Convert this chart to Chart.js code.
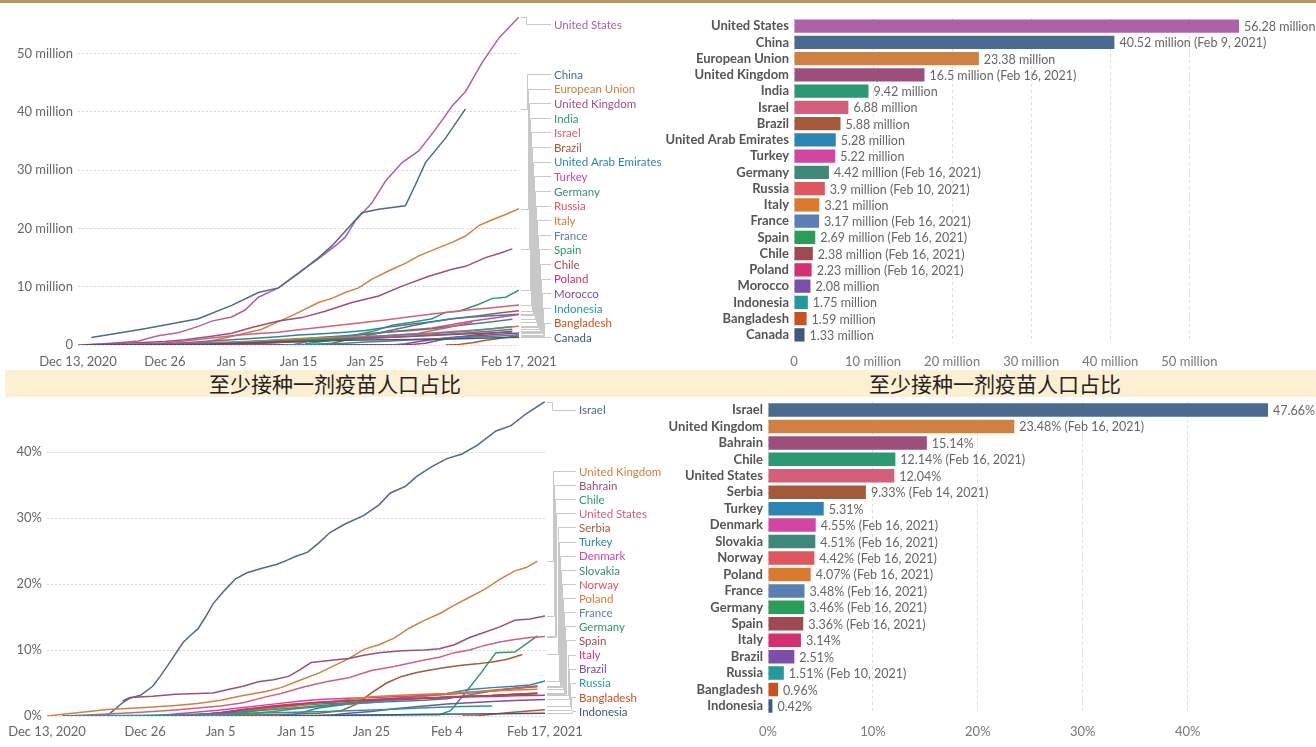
<!DOCTYPE html>
<html><head><meta charset="utf-8">
<script src="https://cdn.jsdelivr.net/npm/chart.js@4.4.1/dist/chart.umd.min.js"></script>
<style>
body{margin:0;width:1316px;height:747px;position:relative;background:#fff;overflow:hidden;font-family:Lato,sans-serif}
canvas{position:absolute}
#goldbar{position:absolute;left:0;top:0;width:1316px;height:3px;background:#b5955b}
#banner{position:absolute;left:5px;top:370px;width:1311px;height:27px;background:#fcefd2}
.btxt{position:absolute;top:0;width:400px;margin-left:-200px;text-align:center;font:21px "Noto Sans CJK SC";color:#222;line-height:27px}
</style></head>
<body>
<div id="goldbar"></div>
<div id="banner"><div class="btxt" style="left:330px">至少接种一剂疫苗人口占比</div><div class="btxt" style="left:990px">至少接种一剂疫苗人口占比</div></div>
<canvas id="c1" width="668" height="370" style="left:0;top:0"></canvas>
<canvas id="c2" width="656" height="370" style="left:660px;top:0"></canvas>
<canvas id="c3" width="668" height="367" style="left:0;top:380px"></canvas>
<canvas id="c4" width="656" height="367" style="left:660px;top:380px"></canvas>
<script>
// ---------- shared axis data ----------
const tickDays = [0, 13, 23, 33, 43, 53, 66];           // days since Dec 13, 2020
const tickDates = ['Dec 13, 2020', 'Dec 26', 'Jan 5', 'Jan 15', 'Jan 25', 'Feb 4', 'Feb 17, 2021'];
const dosesTicks = [0, 10, 20, 30, 40, 50];              // millions
const shareTicks = [0, 10, 20, 30, 40];                  // percent

// ---------- top: vaccine doses (millions), [day, value] ----------
const topNames = ['United States','China','European Union','United Kingdom','India','Israel','Brazil','United Arab Emirates','Turkey','Germany','Russia','Italy','France','Spain','Chile','Poland','Morocco','Indonesia','Bangladesh','Canada'];
const topColors = ['#b060a8','#4a6a8f','#d0803f','#9b4f7a','#2a9a70','#d45f78','#a35a3b','#2a84b4','#d444a2','#3e8a7a','#e0565d','#d97a2f','#5a7eb5','#2a9c5a','#9e4a50','#d52f72','#7b4fa7','#22999a','#c9521c','#3c5a7a'];
const dUS = [[1,0],[5,0.3],[9,0.7],[12,1.6],[15,2.1],[18,3.2],[20,4.1],[23,4.8],[25,6.0],[27,8.2],[30,9.8],[33,12.4],[35.5,14.4],[38.5,17.0],[40,18.5],[41.5,21.3],[44,24.4],[46,28.1],[48.5,31.3],[51,33.3],[53.5,37.0],[56,41.0],[58,43.5],[60.5,48.5],[63,52.7],[66,56.28]];
const dChina = [[2,1.3],[10,2.8],[18,4.5],[23,6.8],[27,9.0],[30,9.8],[33,12.3],[36,15.0],[38,17.0],[40,19.5],[42.5,22.7],[45,23.3],[49,23.9],[50.5,27.5],[52,31.3],[55,35.5],[58,40.52]];
const dEU = [[13,0],[18,0.3],[22,1.2],[25,2.0],[27.5,2.7],[30,4.0],[32.5,5.3],[36,7.3],[38,8.0],[40,9.0],[42,9.8],[44,11.3],[47,13.0],[49,14.0],[51,15.3],[54,16.7],[56,17.6],[58,18.7],[60,20.5],[62,21.5],[64,22.4],[66,23.38]];
const dUK = [[0,0],[7,0.3],[13,0.6],[16,0.9],[20,1.5],[23,2.0],[26,3.0],[30,4.1],[33.5,4.7],[37,5.8],[41,7.3],[45,8.4],[48.5,10.1],[52.5,11.8],[56,13.0],[58,13.5],[61,15.0],[63,15.7],[65,16.5]];
const dIndia = [[34,0.2],[38,0.8],[41,1.6],[44,2.3],[47,3.4],[50,3.9],[53,4.5],[55,5.6],[57,5.8],[60,7.0],[62,8.0],[64,8.2],[66,9.42]];
const dIsrael = [[6,0],[10,0.2],[13,0.4],[16,0.7],[20,1.2],[23,1.6],[26,1.9],[30,2.2],[33,2.6],[36,3.0],[40,3.5],[43,3.9],[46,4.3],[50,4.9],[53,5.3],[56,5.7],[59,6.1],[62,6.4],[66,6.88]];
const dBrazil = [[35,0],[38,0.3],[40,0.8],[43,1.5],[46,2.3],[50,3.3],[53,4.0],[56,4.5],[60,5.0],[63,5.5],[66,5.88]];
const dUAE = [[10,0.05],[16,0.4],[20,0.7],[23,0.9],[26,1.1],[30,1.4],[33,1.7],[36,1.9],[40,2.2],[43,2.5],[46,3.0],[50,3.6],[53,4.0],[56,4.5],[59,4.8],[62,5.0],[66,5.28]];
const dTurkey = [[32,0],[34,0.5],[36,1.0],[40,1.5],[43,1.8],[46,2.2],[50,2.6],[53,2.9],[56,3.5],[59,4.1],[62,4.6],[66,5.22]];
const dGermany = [[14,0],[17,0.1],[20,0.2],[23,0.35],[26,0.55],[30,0.8],[33,1.0],[36,1.3],[40,1.6],[43,1.9],[46,2.2],[50,2.5],[53,2.8],[56,3.2],[59,3.6],[62,4.0],[65,4.42]];
const dRussia = [[2,0],[13,0.2],[23,0.5],[30,0.8],[37,1.0],[45,1.5],[51,2.0],[55,2.9],[59,3.9]];
const dItaly = [[14,0],[17,0.05],[20,0.1],[23,0.3],[26,0.6],[30,0.9],[33,1.1],[36,1.25],[40,1.35],[43,1.45],[46,1.6],[50,1.85],[53,2.05],[56,2.3],[59,2.55],[62,2.8],[66,3.21]];
const dFrance = [[14,0],[20,0.01],[23,0.05],[26,0.2],[30,0.45],[33,0.7],[36,0.95],[40,1.2],[43,1.35],[46,1.6],[50,1.8],[53,1.95],[56,2.2],[59,2.45],[62,2.8],[65,3.17]];
const dSpain = [[14,0],[17,0.05],[20,0.1],[23,0.25],[26,0.45],[30,0.65],[33,0.8],[36,1.0],[40,1.1],[43,1.2],[46,1.3],[50,1.5],[53,1.7],[56,1.9],[59,2.15],[62,2.4],[65,2.69]];
const dChile = [[11,0],[20,0.02],[30,0.04],[40,0.06],[50,0.1],[52,0.3],[54,0.8],[56,1.2],[58,1.5],[60,1.8],[62,2.0],[65,2.38]];
const dPoland = [[14,0],[17,0.02],[20,0.08],[23,0.15],[26,0.3],[30,0.45],[33,0.55],[36,0.75],[40,0.95],[43,1.1],[46,1.3],[50,1.5],[53,1.65],[56,1.8],[59,1.95],[62,2.1],[65,2.23]];
const dMorocco = [[47,0],[49,0.2],[51,0.6],[53,0.9],[55,1.2],[57,1.4],[60,1.6],[63,1.85],[66,2.08]];
const dIndonesia = [[31,0],[34,0.1],[37,0.2],[40,0.3],[43,0.5],[46,0.65],[50,0.9],[53,1.05],[56,1.2],[60,1.4],[63,1.55],[66,1.75]];
const dBangladesh = [[55,0],[57,0.1],[59,0.4],[61,0.8],[63,1.1],[66,1.59]];
const dCanada = [[1,0],[6,0.03],[13,0.08],[20,0.15],[23,0.25],[26,0.35],[30,0.5],[33,0.6],[36,0.7],[40,0.8],[43,0.85],[46,0.9],[50,0.95],[53,1.0],[56,1.05],[60,1.15],[63,1.25],[66,1.33]];
const topSeries = [dUS,dChina,dEU,dUK,dIndia,dIsrael,dBrazil,dUAE,dTurkey,dGermany,dRussia,dItaly,dFrance,dSpain,dChile,dPoland,dMorocco,dIndonesia,dBangladesh,dCanada];

// top-right bars
const doseBarNames = topNames;
const doseBarValues = [56.28,40.52,23.38,16.5,9.42,6.88,5.88,5.28,5.22,4.42,3.9,3.21,3.17,2.69,2.38,2.23,2.08,1.75,1.59,1.33];
const doseBarDates = ['','Feb 9, 2021','','Feb 16, 2021','','','','','','Feb 16, 2021','Feb 10, 2021','','Feb 16, 2021','Feb 16, 2021','Feb 16, 2021','Feb 16, 2021','','','',''];

// ---------- bottom: share with at least one dose (%), [day, value] ----------
const botNames = ['Israel','United Kingdom','Bahrain','Chile','United States','Serbia','Turkey','Denmark','Slovakia','Norway','Poland','France','Germany','Spain','Italy','Brazil','Russia','Bangladesh','Indonesia'];
const botColors = ['#4a6a8f','#d0803f','#9b4f7a','#2a9a70','#d45f78','#a35a3b','#2a84b4','#d444a2','#3e8a7a','#e0565d','#d97a2f','#5a7eb5','#2a9c5a','#9e4a50','#d52f72','#7b4fa7','#22999a','#c9521c','#3c5a7a'];
const sIsrael = [[6,0],[8,0.1],[9,1.0],[10,2.0],[11,2.7],[12.5,3.2],[14,4.5],[15,6.0],[16.5,8.5],[18,11.1],[19,12.2],[20,13.2],[21,15.0],[22,17.0],[23.5,19.0],[25,20.8],[26.5,21.7],[28.5,22.4],[30.5,23.0],[32,23.7],[33,24.2],[34.5,24.8],[36,26.2],[37.5,27.8],[39.5,29.1],[42,30.4],[44,32.0],[45.5,33.8],[47.5,34.8],[49,36.3],[51,37.8],[53,39.0],[55,39.7],[57,41.0],[59.5,43.2],[61.5,44.0],[63.5,45.8],[66,47.66]];
const sUK = [[0,0],[4,0.5],[8,1.0],[13,1.3],[17,1.6],[20,1.9],[23,2.4],[26,3.1],[29,3.7],[31,4.3],[33,5.2],[36,6.5],[38,7.6],[40,8.7],[42,10.1],[44,10.8],[46,11.8],[48,13.3],[50,14.5],[52,15.5],[54,16.8],[56,18.0],[58,19.2],[60,20.7],[62,22.0],[63.5,22.5],[65,23.48]];
const sBahrain = [[10,2.3],[11,2.8],[14,3.0],[17,3.3],[20,3.4],[22,3.5],[24,4.0],[26,4.5],[28,5.2],[30,5.5],[32,6.0],[33.5,7.0],[35,8.1],[38,8.5],[40,8.7],[42,9.2],[44,9.6],[47,9.9],[50,10.0],[52,10.2],[54,10.8],[56,11.9],[58,12.7],[60,13.5],[62,14.5],[64,14.7],[66,15.14]];
const sChile = [[11,0],[30,0.05],[52,0.2],[53.5,0.8],[55.5,3.6],[57.5,6.5],[59.5,9.6],[62,9.7],[65,12.14]];
const sUS = [[2,0],[6,0.2],[10,0.4],[13,0.6],[17,0.9],[20,1.2],[23,1.5],[26,2.0],[29,2.9],[31,3.4],[34,4.4],[37,5.2],[40,5.8],[43,6.9],[46,7.5],[48,8.0],[50,8.5],[52,8.9],[54,9.6],[56,10.0],[58,10.7],[60,11.2],[62,11.6],[64,11.9],[66,12.04]];
const sSerbia = [[11,0],[20,0.1],[30,0.2],[36,0.4],[39,0.8],[41,1.8],[43,3.5],[45,5.0],[47,6.0],[49,6.6],[51,7.0],[53,7.4],[55,7.7],[57,7.9],[59,8.2],[61,8.6],[63,9.33]];
const sTurkey = [[32,0],[34,0.6],[36,1.2],[40,1.8],[43,2.2],[46,2.6],[50,3.1],[53,3.4],[56,4.0],[59,4.3],[62,4.5],[64,4.7],[66,5.31]];
const sDenmark = [[14,0],[17,0.3],[20,0.6],[23,0.9],[26,1.3],[30,1.8],[33,2.2],[36,2.5],[40,2.7],[43,2.8],[46,2.9],[50,3.1],[53,3.3],[56,3.5],[59,3.8],[62,4.2],[65,4.55]];
const sSlovakia = [[14,0],[20,0.2],[26,0.5],[30,1.2],[33,1.6],[36,1.8],[40,2.0],[43,2.1],[46,2.2],[50,2.4],[53,2.6],[56,3.2],[59,3.8],[62,4.2],[65,4.51]];
const sNorway = [[14,0],[20,0.2],[23,0.5],[26,1.0],[30,1.5],[33,1.8],[36,2.0],[40,2.3],[43,2.5],[46,2.7],[50,3.0],[53,3.3],[56,3.6],[59,3.9],[62,4.2],[65,4.42]];
const sPoland = [[14,0],[20,0.15],[23,0.4],[26,0.8],[30,1.2],[33,1.5],[36,2.0],[40,2.5],[43,2.9],[46,3.1],[50,3.3],[53,3.4],[56,3.6],[59,3.8],[62,3.95],[65,4.07]];
const sFrance = [[14,0],[20,0.01],[23,0.08],[26,0.3],[30,0.7],[33,1.1],[36,1.4],[40,1.8],[43,2.0],[46,2.4],[50,2.7],[53,2.9],[56,3.0],[59,3.1],[62,3.3],[65,3.48]];
const sGermany = [[14,0],[20,0.25],[23,0.4],[26,0.65],[30,1.0],[33,1.25],[36,1.55],[40,1.9],[43,2.3],[46,2.5],[50,2.7],[53,2.85],[56,3.0],[59,3.1],[62,3.3],[65,3.46]];
const sSpain = [[14,0],[20,0.2],[23,0.5],[26,0.9],[30,1.4],[33,1.7],[36,2.1],[40,2.3],[43,2.45],[46,2.6],[50,2.7],[53,2.8],[56,2.95],[59,3.1],[62,3.25],[65,3.36]];
const sItaly = [[14,0],[20,0.2],[23,0.5],[26,1.0],[30,1.5],[33,1.8],[36,2.1],[40,2.25],[43,2.4],[46,2.6],[50,2.7],[53,2.8],[56,2.9],[59,2.95],[62,3.05],[66,3.14]];
const sBrazil = [[35,0],[38,0.2],[40,0.4],[43,0.7],[46,1.1],[50,1.5],[53,1.8],[56,2.0],[59,2.2],[62,2.35],[66,2.51]];
const sRussia = [[2,0],[13,0.1],[23,0.3],[30,0.5],[37,0.7],[45,1.0],[51,1.3],[55,1.45],[59,1.51]];
const sBangladesh = [[55,0],[57,0.05],[59,0.25],[61,0.5],[63,0.7],[66,0.96]];
const sIndonesia = [[31,0],[36,0.05],[40,0.1],[46,0.2],[50,0.25],[56,0.3],[60,0.35],[63,0.38],[66,0.42]];
const botSeries = [sIsrael,sUK,sBahrain,sChile,sUS,sSerbia,sTurkey,sDenmark,sSlovakia,sNorway,sPoland,sFrance,sGermany,sSpain,sItaly,sBrazil,sRussia,sBangladesh,sIndonesia];

// bottom-right bars
const shareBarNames = botNames;
const shareBarValues = [47.66,23.48,15.14,12.14,12.04,9.33,5.31,4.55,4.51,4.42,4.07,3.48,3.46,3.36,3.14,2.51,1.51,0.96,0.42];
const shareBarDates = ['','Feb 16, 2021','','Feb 16, 2021','','Feb 14, 2021','','Feb 16, 2021','Feb 16, 2021','Feb 16, 2021','Feb 16, 2021','Feb 16, 2021','Feb 16, 2021','Feb 16, 2021','','','Feb 10, 2021','',''];

// ---------- chart building ----------
Chart.defaults.font.family = 'Lato';
Chart.defaults.color = '#666';
Chart.defaults.animation = false;

function endLabels(cfg){
  return {id:'endLabels', afterDatasetsDraw(chart){
    const ctx = chart.ctx, ca = chart.chartArea, ys = chart.scales.y;
    const items = chart.data.datasets.map(ds => {
      const last = ds.data[ds.data.length-1];
      return {name: ds.label, color: ds.borderColor, v: last.y, py: ys.getPixelForValue(last.y)};
    });
    items.sort((a,b) => b.v - a.v);
    const n = items.length;
    items.forEach(it => it.ly = Math.max(it.py, ca.top + cfg.topInset));
    let limit = ca.bottom - cfg.bottomInset;
    for (let i = n-1; i >= 0; i--) { items[i].ly = Math.min(items[i].ly, limit); limit = items[i].ly - cfg.spacing; }
    ctx.save();
    ctx.lineWidth = 1;
    ctx.strokeStyle = '#c8c8c8';
    const x0 = ca.right + 2;
    items.forEach((it, i) => {
      const sx = Math.round(cfg.stepStart + (cfg.stepEnd - cfg.stepStart) * (i / (n-1))) + 0.5;
      const py = Math.round(it.py) + 0.5, ly = Math.round(it.ly) + 0.5;
      ctx.beginPath();
      ctx.moveTo(x0, py); ctx.lineTo(sx, py); ctx.lineTo(sx, ly); ctx.lineTo(cfg.labelX - 3, ly);
      ctx.stroke();
    });
    ctx.font = cfg.fontSize + 'px Lato';
    ctx.textBaseline = 'middle';
    ctx.textAlign = 'left';
    items.forEach(it => { ctx.fillStyle = it.color; ctx.fillText(it.name, cfg.labelX, it.ly + 1); });
    ctx.restore();
  }};
}

function barValues(fmt){
  return {id:'barValues', afterDatasetsDraw(chart){
    const ctx = chart.ctx, meta = chart.getDatasetMeta(0);
    ctx.save();
    ctx.font = '12.5px Lato'; ctx.fillStyle = '#666'; ctx.textBaseline = 'middle'; ctx.textAlign = 'left';
    meta.data.forEach((bar, i) => ctx.fillText(fmt(i), bar.x + 5, bar.y + 1));
    ctx.restore();
  }};
}

function lineChart(id, names, colors, series, yMax, yTicks, yFmt, geo, labelCfg){
  new Chart(document.getElementById(id), {
    type: 'line',
    data: {datasets: series.map((s, i) => ({
      label: names[i], data: s.map(p => ({x: p[0], y: p[1]})),
      borderColor: colors[i], borderWidth: 1.5, pointRadius: 0, tension: 0, fill: false
    })).reverse()},
    options: {
      responsive: false, animation: false,
      layout: {padding: {left: 0, right: geo.right, top: geo.top, bottom: 0}},
      plugins: {legend: {display: false}, tooltip: {enabled: false}},
      scales: {
        x: {type: 'linear', min: 0, max: 66,
            afterBuildTicks: s => { s.ticks = tickDays.map(v => ({value: v})); },
            afterFit: s => { s.height = geo.xh; },
            ticks: {autoSkip: false, maxRotation: 0, padding: geo.xpad, font: {size: 13}, color: '#666',
                    callback: v => tickDates[tickDays.indexOf(v)]},
            grid: {display: false, drawTicks: false}, border: {display: false}},
        y: {min: 0, max: yMax,
            afterBuildTicks: s => { s.ticks = yTicks.map(v => ({value: v})); },
            afterFit: s => { s.width = geo.yw; },
            ticks: {padding: 5, font: {size: 13}, color: '#666', callback: yFmt},
            grid: {drawTicks: false, color: '#d8d8d8', lineWidth: 1},
            border: {display: false, dash: [2, 2]}}
      }
    },
    plugins: [endLabels(labelCfg)]
  });
}

function barChart(id, names, colors, values, xMax, xTicks, xFmt, geo, fmt){
  new Chart(document.getElementById(id), {
    type: 'bar',
    data: {labels: names, datasets: [{data: values, backgroundColor: colors, borderWidth: 0,
            barPercentage: 0.82, categoryPercentage: 1}]},
    options: {
      indexAxis: 'y', responsive: false, animation: false,
      layout: {padding: {left: 0, right: geo.right, top: geo.top, bottom: 0}},
      plugins: {legend: {display: false}, tooltip: {enabled: false}},
      scales: {
        x: {min: 0, max: xMax,
            afterBuildTicks: s => { s.ticks = xTicks.map(v => ({value: v})); },
            afterFit: s => { s.height = geo.xh; },
            ticks: {padding: geo.xpad, font: {size: 13}, color: '#777', maxRotation: 0, autoSkip: false, callback: xFmt},
            grid: {drawTicks: false, color: '#dcdcdc'},
            border: {display: false, dash: [3, 3]}},
        y: {afterFit: s => { s.width = geo.yw; },
            ticks: {autoSkip: false, padding: 5, font: {size: 13, weight: 'bold'}, color: '#555'},
            grid: {display: false, drawTicks: false}, border: {display: false}}
      }
    },
    plugins: [barValues(fmt)]
  });
}

const millionsFmt = v => v === 0 ? '0' : v + ' million';
const pctFmt = v => v + '%';

lineChart('c1', topNames, topColors, topSeries, 56.28, dosesTicks, millionsFmt,
  {right: 149, top: 17, xh: 25, yw: 78, xpad: 9},
  {labelX: 554, spacing: 14.63, topInset: 7, bottomInset: 5, stepStart: 526, stepEnd: 545, fontSize: 11.5});

barChart('c2', doseBarNames, topColors, doseBarValues, 56.28, dosesTicks, millionsFmt,
  {right: 77, top: 18, xh: 27, yw: 134, xpad: 11},
  i => doseBarValues[i] + ' million' + (doseBarDates[i] ? ' (' + doseBarDates[i] + ')' : ''));

lineChart('c3', botNames, botColors, botSeries, 47.66, shareTicks, pctFmt,
  {right: 123, top: 21.5, xh: 31, yw: 47, xpad: 8},
  {labelX: 579, spacing: 14.12, topInset: 8, bottomInset: 5, stepStart: 552, stepEnd: 572, fontSize: 11.5});

barChart('c4', shareBarNames, botColors, shareBarValues, 47.66, shareTicks, pctFmt,
  {right: 48, top: 21.8, xh: 32.8, yw: 108, xpad: 10},
  i => shareBarValues[i] + '%' + (shareBarDates[i] ? ' (' + shareBarDates[i] + ')' : ''));
</script>
</body></html>
